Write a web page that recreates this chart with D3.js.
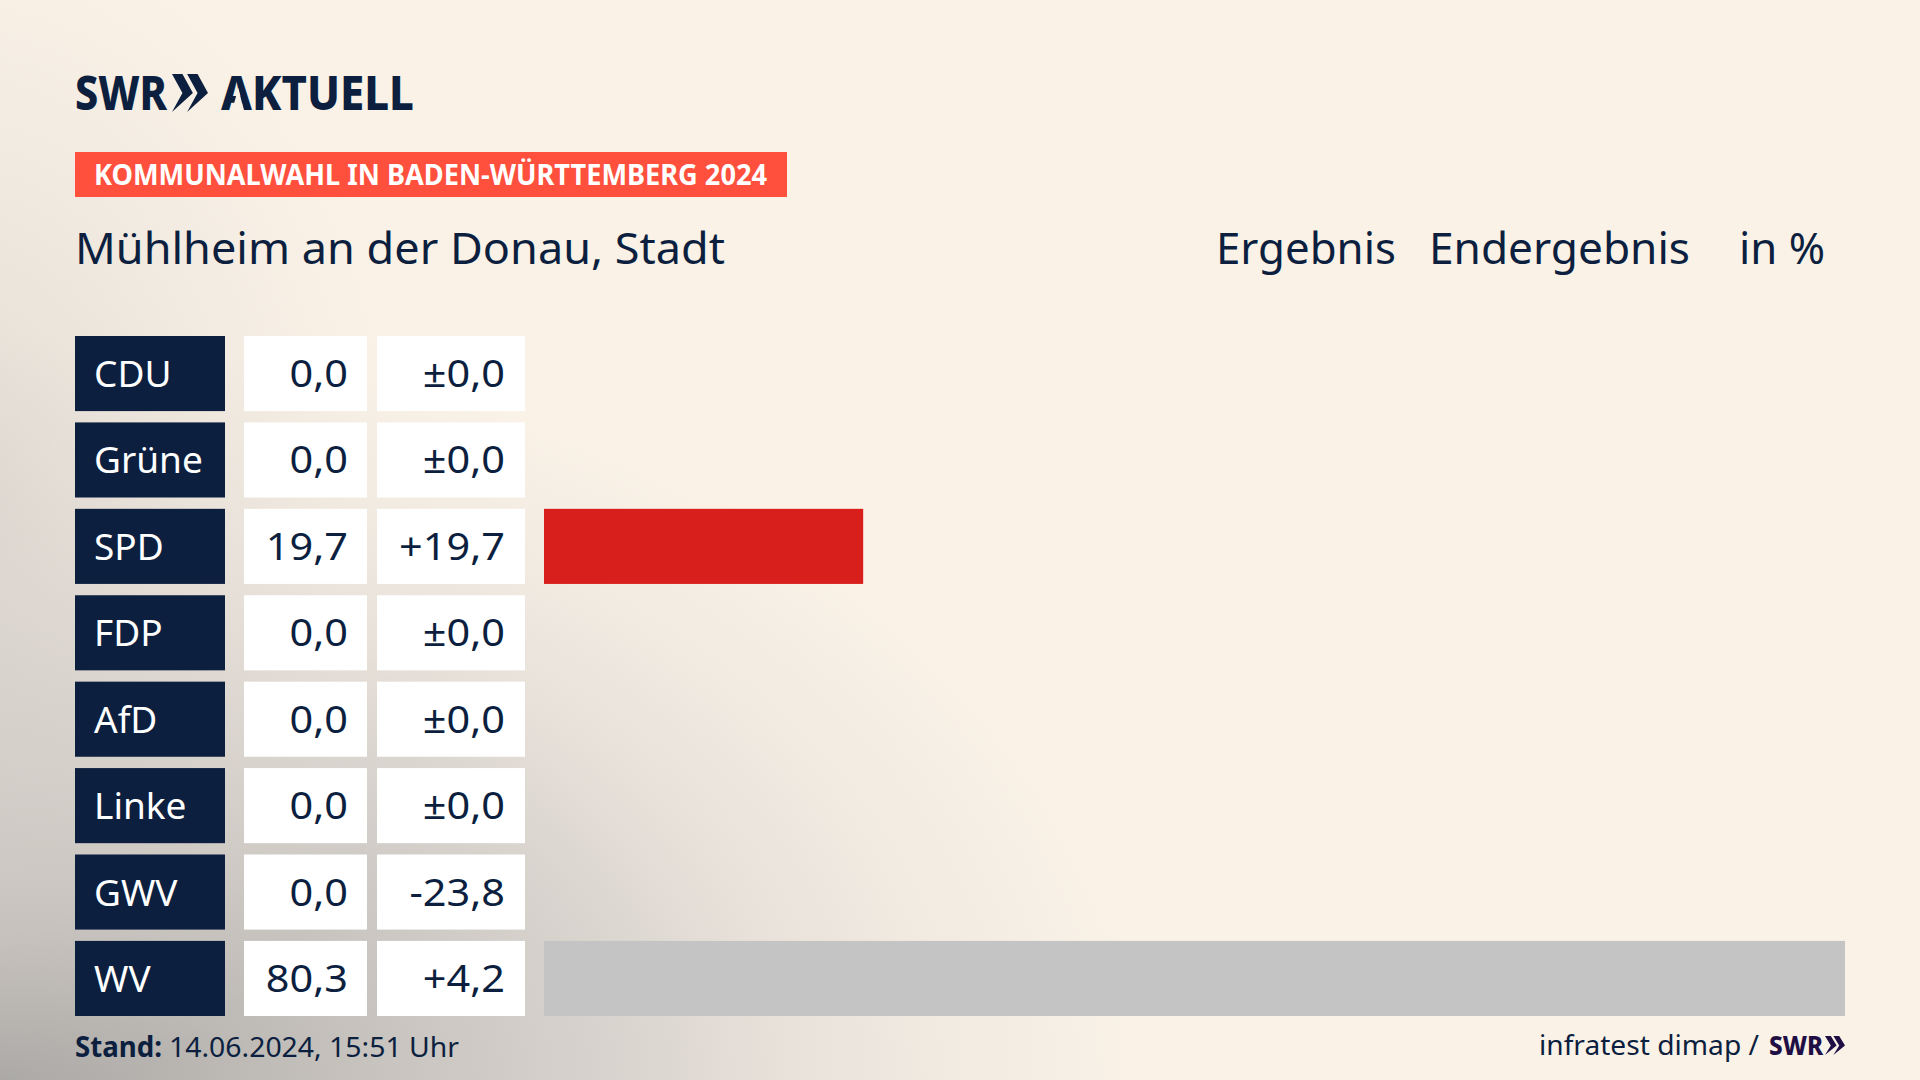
<!DOCTYPE html>
<html>
<head>
<meta charset="utf-8">
<script src="https://cdn.jsdelivr.net/npm/d3@7"></script>
<style>
  html, body { margin: 0; padding: 0; background: #faf2e7; overflow: hidden; }
  text { font-family: "Noto Sans", sans-serif; fill: #0c1f3f; }
</style>
</head>
<body>
<svg id="chart" width="1920" height="1080"></svg>
<script>
var parties = ["CDU", "Grüne", "SPD", "FDP", "AfD", "Linke", "GWV", "WV"];
var results = [0, 0, 19.7, 0, 0, 0, 0, 80.3];
var changes = [0, 0, 19.7, 0, 0, 0, -23.8, 4.2];
var barColors = ["#0c1f3f", "#1f9a3c", "#d91f1c", "#f5d90a", "#1f9fd9", "#b5127d", "#c4c4c4", "#c4c4c4"];

var navy = "#0c1f3f";
var svg = d3.select("#chart");

// background, cream with the grey glow out of the lower left corner
var defs = svg.append("defs");
function glow(id, stops) {
  var g = defs.append("radialGradient").attr("id", id);
  stops.forEach(function (s) {
    g.append("stop").attr("offset", s[0]).attr("stop-color", s[1]).attr("stop-opacity", s[2]);
  });
}
glow("glowLow", [[0, "#a8a6a4", 1], [0.18, "#bdb9b5", 1], [0.49, "#dad5cf", 1], [0.6, "#e8e1da", 1], [0.72, "#f1eae1", 1], [0.88, "#faf2e7", 1], [1, "#faf2e7", 1]]);
glow("glowLeft", [[0, "#c9c5c0", 0.55], [0.6, "#e4ddd5", 0.3], [1, "#faf2e7", 0]]);

svg.append("rect").attr("width", 1920).attr("height", 1080).attr("fill", "#faf2e7");
svg.append("ellipse").attr("cx", 0).attr("cy", 1080).attr("rx", 1300).attr("ry", 850).attr("fill", "url(#glowLow)");
svg.append("ellipse").attr("cx", -60).attr("cy", 480).attr("rx", 520).attr("ry", 640).attr("fill", "url(#glowLeft)");

// scales
var y = d3.scaleBand().domain(parties).range([336, 1016]).paddingInner(0.131);
var x = d3.scaleLinear().domain([0, 80.3]).range([544, 1845]);

var comma = d3.format(".1f");
function fmtResult(v) { return comma(v).replace(".", ","); }
function fmtChange(v) {
  var s = comma(Math.abs(v)).replace(".", ",");
  if (v > 0) return "+" + s;
  if (v < 0) return "-" + s;
  return "±" + s;
}

function addText(str, px, py, size, weight, width, anchor) {
  var t = svg.append("text").attr("x", px).attr("y", py)
    .attr("font-size", size).attr("font-weight", weight || 400)
    .attr("text-anchor", anchor || "start").text(str);
  if (width) t.attr("textLength", width).attr("lengthAdjust", "spacingAndGlyphs");
  return t;
}

// numbers run wider in the original font
function widen(sel, k) {
  sel.each(function () {
    d3.select(this).attr("textLength", this.getComputedTextLength() * k).attr("lengthAdjust", "spacingAndGlyphs");
  });
}

// chevrons of the logo
function chevrons(px, py, w, h, color) {
  var cw = w * 0.58, step = w - cw, notch = cw * 0.5;
  [0, step].forEach(function (o) {
    svg.append("path").attr("fill", color).attr("d",
      "M" + (px + o) + "," + py + "h" + (cw - notch) + "l" + notch + "," + (h / 2) +
      "l" + (-notch - (cw - notch)) + "," + (h / 2) + "l" + notch + "," + (-h / 2) + "z");
  });
}

// header
addText("SWR", 75, 110, 48, 800, 92);
chevrons(172, 74, 36, 38, navy);
addText("AKTUELL", 221, 110, 48, 800, 193);
// the logo A has no crossbar
svg.append("polygon").attr("points", "232,111 244,111 238.3,88").attr("fill", "#faf1e7");

svg.append("rect").attr("x", 75).attr("y", 152).attr("width", 712).attr("height", 45).attr("fill", "#ff4f3d");
addText("KOMMUNALWAHL IN BADEN-WÜRTTEMBERG 2024", 94, 185, 28, 700, 673).style("fill", "#fff");

addText("Mühlheim an der Donau, Stadt", 75, 264, 43, 400, 650);
addText("Ergebnis", 1216, 264, 43, 400, 180);
addText("Endergebnis", 1429, 264, 43, 400, 261);
addText("in %", 1739, 264, 43, 400, 86);

// rows
var rows = svg.append("g").selectAll("g").data(parties).enter().append("g");

rows.append("rect").attr("x", 75).attr("width", 150)
  .attr("y", function (d) { return y(d); }).attr("height", y.bandwidth()).attr("fill", navy);
rows.append("rect").attr("x", 244).attr("width", 123)
  .attr("y", function (d) { return y(d); }).attr("height", y.bandwidth()).attr("fill", "#fff");
rows.append("rect").attr("x", 377).attr("width", 148)
  .attr("y", function (d) { return y(d); }).attr("height", y.bandwidth()).attr("fill", "#fff");

rows.append("rect").attr("x", x(0))
  .attr("y", function (d) { return y(d); }).attr("height", y.bandwidth())
  .attr("width", function (d, i) { return x(results[i]) - x(0); })
  .attr("fill", function (d, i) { return barColors[i]; });

rows.append("text").attr("x", 94).attr("font-size", 37).style("fill", "#fff")
  .attr("y", function (d) { return y(d) + y.bandwidth() / 2 + 13.5; })
  .text(function (d) { return d; });
widen(rows.append("text").attr("x", 348).attr("font-size", 38).attr("text-anchor", "end")
  .attr("y", function (d) { return y(d) + y.bandwidth() / 2 + 13.5; })
  .text(function (d, i) { return fmtResult(results[i]); }), 1.09);
widen(rows.append("text").attr("x", 505).attr("font-size", 38).attr("text-anchor", "end")
  .attr("y", function (d) { return y(d) + y.bandwidth() / 2 + 13.5; })
  .text(function (d, i) { return fmtChange(changes[i]); }), 1.09);

// footer
addText("Stand:", 75, 1057, 28, 700, 87);
addText("14.06.2024, 15:51 Uhr", 169, 1057, 28, 400, 290);
addText("infratest dimap /", 1539, 1055, 28, 400, 220);
addText("SWR", 1769, 1055, 27, 800, 54).style("fill", "#1f0f45");
chevrons(1825, 1036, 20, 19, "#1f0f45");
</script>
</body>
</html>
